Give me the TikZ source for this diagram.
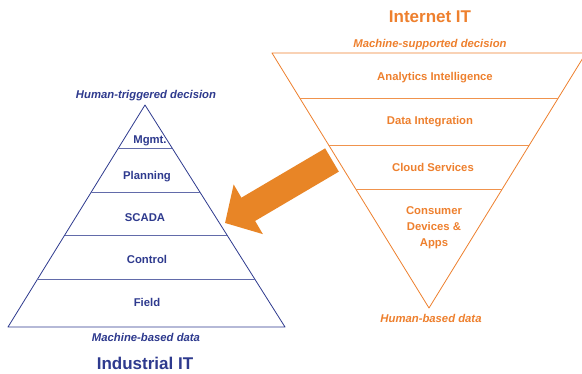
\documentclass[tikz,border=0pt]{standalone}
\usepackage{fontspec}
\setmainfont{Liberation Sans}
\usetikzlibrary{arrows.meta, calc}
\definecolor{ITblue}{RGB}{46, 58, 142}
\definecolor{ITorange}{RGB}{238, 128, 46}
\definecolor{ITarrow}{RGB}{232, 133, 38}
\tikzset{every node/.style={font=\bfseries\fontsize{11.3}{16}\selectfont, inner sep=0pt}, every path/.style={line join=round}}

\begin{document}
\begin{tikzpicture}[
    x=1pt, y=-1pt,
    layer/.style={anchor=base},
    note/.style={anchor=base, font=\bfseries\itshape\fontsize{11.3}{14}\selectfont},
    title/.style={anchor=base, font=\bfseries\fontsize{17}{20}\selectfont},
    bigarrow/.style={ITarrow, line width=27pt, line cap=butt, -{Triangle[length=27pt, width=56pt]}}
]
    \fill [white] (0,0) rectangle (582,374);
    \useasboundingbox (0,0) rectangle (582,374);

    % industrial IT pyramid
    \coordinate (ind top) at (145,105);
    \coordinate (ind left) at (8,327);
    \coordinate (ind right) at (285,327);
    \draw [ITblue, line width=0.8pt] (ind top) -- (ind left) -- (ind right) -- cycle;
    \foreach \t in {0.194, 0.392, 0.586, 0.788}
        \draw [ITblue!75, line width=1pt] ($(ind top)!\t!(ind left)$) -- ($(ind top)!\t!(ind right)$);

    \begin{scope}[ITblue]
        \node [note] (human trig) at (146,99) {Human-triggered decision};
        \node [layer] (mgmt) at (150,144) {Mgmt.};
        \node [layer] (planning) at (147,180) {Planning};
        \node [layer] (scada) at (145,222) {SCADA};
        \node [layer] (control) at (147,264) {Control};
        \node [layer] (field) at (147,307) {Field};
        \node [note] (machine data) at (146,342) {Machine-based data};
        \node [title] (industrial) at (145,370) {Industrial IT};
    \end{scope}

    % internet IT funnel
    \coordinate (net left) at (272,53);
    \coordinate (net right) at (586,53);
    \coordinate (net tip) at (429,308);
    \draw [ITorange, line width=0.8pt] (net left) -- (net right) -- (net tip) -- cycle;
    \foreach \t in {0.180, 0.361, 0.537}
        \draw [ITorange!85, line width=1pt] ($(net left)!\t!(net tip)$) -- ($(net right)!\t!(net tip)$);

    \begin{scope}[ITorange]
        \node [title] (internet) at (430,23) {Internet IT};
        \node [note] (machine dec) at (430,48) {Machine-supported decision};
        \node [layer] (analytics) at (435,81) {Analytics Intelligence};
        \node [layer] (integration) at (430,125) {Data Integration};
        \node [layer] (cloud) at (433,172) {Cloud Services};
        \node [align=center] (consumer) at (434,228) {Consumer\\Devices \&\\Apps};
        \node [note] (human data) at (431,323) {Human-based data};
    \end{scope}

    % shift from internet IT into the SCADA layer
    \coordinate (arrow tail) at (332,160);
    \coordinate (arrow tip) at (225,223);
    \draw [bigarrow] (arrow tail) -- (arrow tip);
\end{tikzpicture}
\end{document}
